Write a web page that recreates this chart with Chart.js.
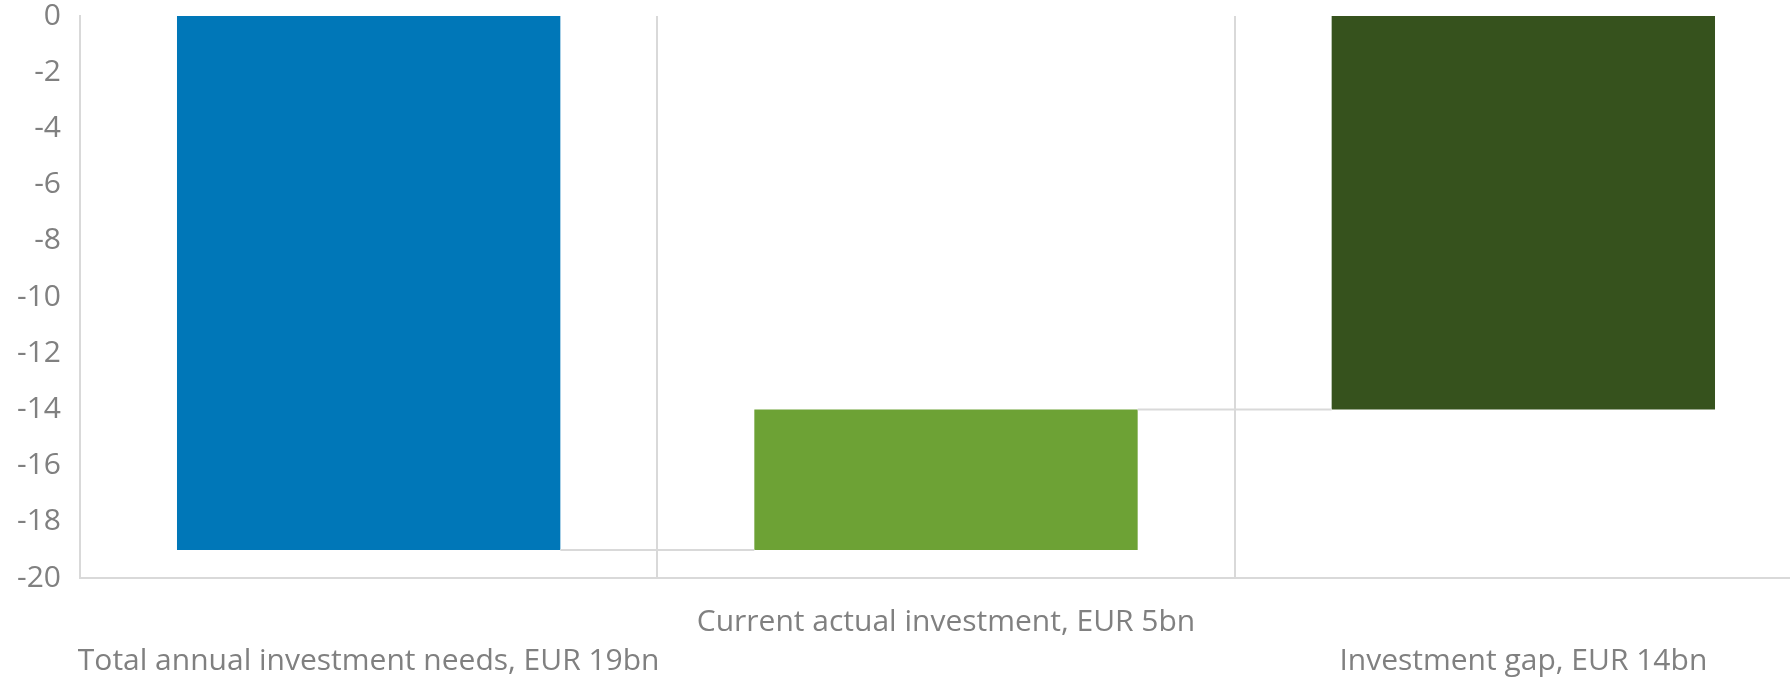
<!DOCTYPE html>
<html>
<head>
<meta charset="utf-8">
<script src="https://cdn.jsdelivr.net/npm/chart.js@4.4.0/dist/chart.umd.min.js"></script>
<style>
    html, body { margin: 0; padding: 0; background: #fff; overflow: hidden; }
    #wrap { position: relative; width: 1812px; height: 680px; }
</style>
</head>
<body>
<div id="wrap"><canvas id="waterfall"></canvas></div>
<script>
// Các hạng mục và giá trị (EUR bn, thể hiện dạng âm như biểu đồ gốc)
const categories = [
    ['', 'Total annual investment needs, EUR 19bn'],
    ['Current actual investment, EUR 5bn'],
    ['', 'Investment gap, EUR 14bn']
];
const barStarts = [0, -19, -14];
const barEnds = [-19, -14, 0];
const barColors = ['#0077B8', '#6DA235', '#36521D'];
const yTicks = [0, -2, -4, -6, -8, -10, -12, -14, -16, -18, -20];

const gridColor = '#d9d9d9';
const textColor = '#808080';

// Đường nối giữa các cột
const connectorPlugin = {
    id: 'connectors',
    afterDatasetsDraw(chart) {
        const meta = chart.getDatasetMeta(0);
        const yScale = chart.scales.y;
        const ctx = chart.ctx;
        ctx.save();
        ctx.strokeStyle = gridColor;
        ctx.lineWidth = 2;
        for (let i = 0; i < barEnds.length - 1; i++) {
            const a = meta.data[i];
            const b = meta.data[i + 1];
            const y = yScale.getPixelForValue(barEnds[i]);
            ctx.beginPath();
            ctx.moveTo(a.x + a.width / 2, y);
            ctx.lineTo(b.x - b.width / 2, y);
            ctx.stroke();
        }
        ctx.restore();
    }
};

const ctx = document.getElementById('waterfall').getContext('2d');
new Chart(ctx, {
    type: 'bar',
    data: {
        labels: categories,
        datasets: [{
            data: barStarts.map((s, i) => [s, barEnds[i]]),
            backgroundColor: barColors,
            borderWidth: 0,
            borderSkipped: false,
            categoryPercentage: 1,
            barPercentage: 0.664
        }]
    },
    options: {
        responsive: true,
        maintainAspectRatio: false,
        animation: false,
        layout: { padding: { top: 0, right: 0, bottom: 0, left: 0 } },
        plugins: {
            legend: { display: false },
            tooltip: { enabled: false }
        },
        scales: {
            x: {
                grid: { color: gridColor, lineWidth: 2, drawTicks: false, offset: true },
                border: { color: gridColor, width: 2 },
                ticks: {
                    color: textColor,
                    padding: 25,
                    maxRotation: 0,
                    autoSkip: false,
                    font: { family: 'Open Sans', size: 30, lineHeight: 1.3 }
                },
                afterFit(scale) { scale.height = 102; }
            },
            y: {
                min: -20,
                max: 0,
                afterBuildTicks(scale) { scale.ticks = yTicks.map(v => ({ value: v })); },
                grid: { display: false },
                border: { display: true, color: gridColor, width: 2 },
                ticks: {
                    color: textColor,
                    padding: 11,
                    font: { family: 'Open Sans', size: 30 }
                },
                afterFit(scale) {
                    scale.width = 80;
                    scale.paddingTop = 16;
                }
            }
        }
    },
    plugins: [connectorPlugin]
});
</script>
</body>
</html>
